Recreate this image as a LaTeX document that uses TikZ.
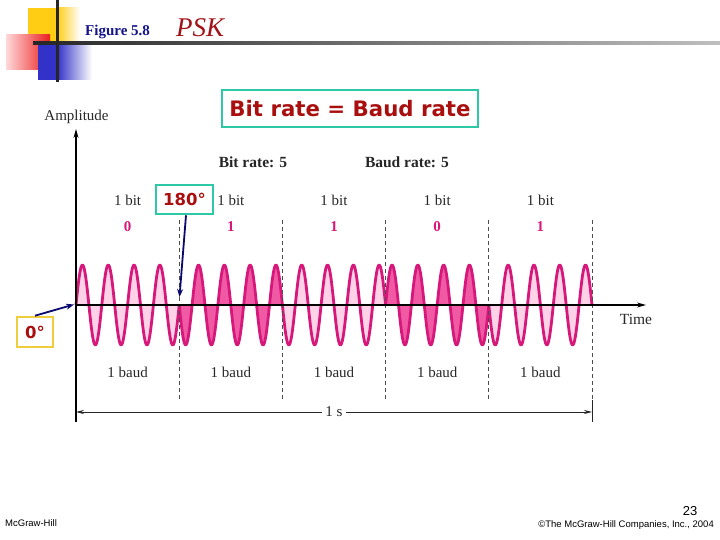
\documentclass[tikz,border=0pt]{standalone}
\usepackage{fontspec}
\setmainfont{Liberation Serif}
\newfontfamily\dvsb{DejaVu Sans Bold}
\newfontfamily\lsans{Liberation Sans}
\usetikzlibrary{arrows.meta}
\newcommand{\myfs}[1]{\fontsize{#1}{#1}\selectfont}
\definecolor{wave}{RGB}{214,24,122}
\definecolor{darkfill}{RGB}{240,90,165}
\definecolor{lightfill}{RGB}{255,210,232}
\definecolor{tealbox}{RGB}{45,200,165}
\definecolor{yelbox}{RGB}{240,205,60}
\definecolor{redtxt}{RGB}{170,15,15}
\definecolor{navy}{RGB}{10,10,110}
\definecolor{titleblue}{RGB}{20,20,140}
\definecolor{psk}{RGB}{160,20,25}
\definecolor{decoyel}{RGB}{255,205,20}
\definecolor{decored}{RGB}{235,30,30}
\definecolor{decoblue}{RGB}{50,50,200}
\definecolor{txtgray}{RGB}{40,40,40}
\tikzset{
  axisline/.style={line width=1.1pt, draw=black},
  divline/.style={line width=0.9pt, draw=black!70, dash pattern=on 4pt off 3pt},
  callout/.style={line width=1.8pt, draw=navy, -{Stealth[length=8pt,width=6pt]}},
  bitlbl/.style={text=txtgray, font=\myfs{15}},
  bitval/.style={text=wave, font=\bfseries\myfs{15}},
  baudlbl/.style={text=txtgray, font=\myfs{15}},
  ratelbl/.style={text=black!85, font=\bfseries\myfs{15.5}},
  degbox/.style={draw=tealbox, line width=2.6pt, fill=white, text=redtxt, font=\dvsb\myfs{16.5}, inner sep=0pt},
}
\begin{document}
\begin{tikzpicture}[x=1pt,y=-1pt]
\useasboundingbox (0,0) rectangle (720,540);
\fill[white] (0,0) rectangle (720,540);
% title decoration
\fill[decoyel] (28,8) rectangle (57,43);
\shade[left color=decoyel, right color=white] (57,8) rectangle (80,43);
\shade[left color=red!15, right color=decored] (6,35) rectangle (50,70);
\fill[decoblue] (38,43) rectangle (57,80);
\shade[left color=decoblue, right color=white] (57,43) rectangle (92,80);
\shade[left color=black!85, right color=black!25] (33,42) rectangle (720,44.5);
\fill[black!85] (56,0) rectangle (58.5,82);
\node[anchor=base west, text=titleblue, font=\bfseries\myfs{15}, inner sep=0pt] (fig) at (85,36) {Figure 5.8};
\node[anchor=base west, text=psk, font=\itshape\myfs{27}, inner sep=0pt] (pskt) at (176,37) {PSK};
% headline box
\node[draw=tealbox, line width=2.8pt, fill=white, text=redtxt, font=\dvsb\myfs{21.3}, minimum width=256pt, minimum height=37pt, inner sep=0pt] (eq) at (350,108.5) {Bit rate = Baud rate};
\node[ratelbl] (br) at (253,162) {Bit rate: 5};
\node[ratelbl] (bd) at (407,162) {Baud rate: 5};
% wave
\foreach \i/\s/\f in {0/1/lightfill,1/-1/darkfill,2/-1/lightfill,3/1/darkfill,4/-1/lightfill}{
  \pgfmathsetmacro\xa{76+103.2*\i}
  \pgfmathsetmacro\xb{\xa+103.2}
  \fill[\f] plot[domain=\xa:\xb, samples=161] (\x,{305-\s*40*sin((\x-\xa)*13.9535)}) -- cycle;
}
\foreach \i/\s in {0/1,1/-1,2/-1,3/1,4/-1}{
  \pgfmathsetmacro\xa{76+103.2*\i}
  \pgfmathsetmacro\xb{\xa+103.2}
  \draw[wave, line width=2.8pt, line join=round] plot[domain=\xa:\xb, samples=161] (\x,{305-\s*40*sin((\x-\xa)*13.9535)});
}
% dividers
\foreach \xx in {179.2,282.4,385.6,488.8,592}{
  \draw[divline] (\xx,220) -- (\xx,400);
}
% axes
\coordinate (o) at (76,305);
\coordinate (ytop) at (76,129);
\coordinate (ybot) at (76,422);
\coordinate (xend) at (646,305);
\draw[axisline] (ybot) -- (o);
\draw[axisline, -{Stealth[length=9pt,width=5pt]}] (o) -- (ytop);
\draw[axisline, -{Stealth[length=9pt,width=5pt]}] (o) -- (xend);
\node[text=txtgray, font=\myfs{15}] (amp) at (76.5,117) {Amplitude};
\node[text=txtgray, font=\myfs{15.5}] (time) at (636,319) {Time};
% labels
\foreach \k/\v in {0/0,1/1,2/1,3/0,4/1}{
  \pgfmathsetmacro\cx{76+103.2*\k+51.6}
  \node[bitlbl] (bit\k) at (\cx,200) {1 bit};
  \node[bitval] (val\k) at (\cx,227) {\v};
  \node[baudlbl] (baud\k) at (\cx,372) {1 baud};
}
% 1 s
\coordinate (sL) at (76,412);
\coordinate (sR) at (592,412);
\draw[line width=0.8pt, black!85] (592,400) -- (592,422);
\draw[line width=0.8pt, black!85, {Stealth[length=8pt,width=4pt]}-{Stealth[length=8pt,width=4pt]}] (sL) -- (sR);
\node[fill=white, text=txtgray, font=\myfs{15}, inner sep=3pt] (onesec) at (334,412) {1 s};
% callouts
\node[degbox, minimum width=57pt, minimum height=29pt] (d180) at (184.5,199.5) {180°};
\coordinate (t180) at (179.5,297);
\draw[callout] (d180.south) ++(1.5,0) -- (t180);
\node[degbox, draw=yelbox, minimum width=36pt, minimum height=30pt] (d0) at (35,332) {0°};
\coordinate (t0) at (74,304.5);
\draw[callout] (d0.north) -- (t0);
% footer
\node[anchor=west, font=\lsans\myfs{9.5}, inner sep=0pt] (mh) at (5,523.5) {McGraw-Hill};
\node[anchor=east, font=\lsans\myfs{9.5}, inner sep=0pt] (copy) at (714,525) {©The McGraw-Hill Companies, Inc., 2004};
\node[font=\lsans\myfs{13}, inner sep=0pt] (pg) at (690,511) {23};
\end{tikzpicture}
\end{document}
